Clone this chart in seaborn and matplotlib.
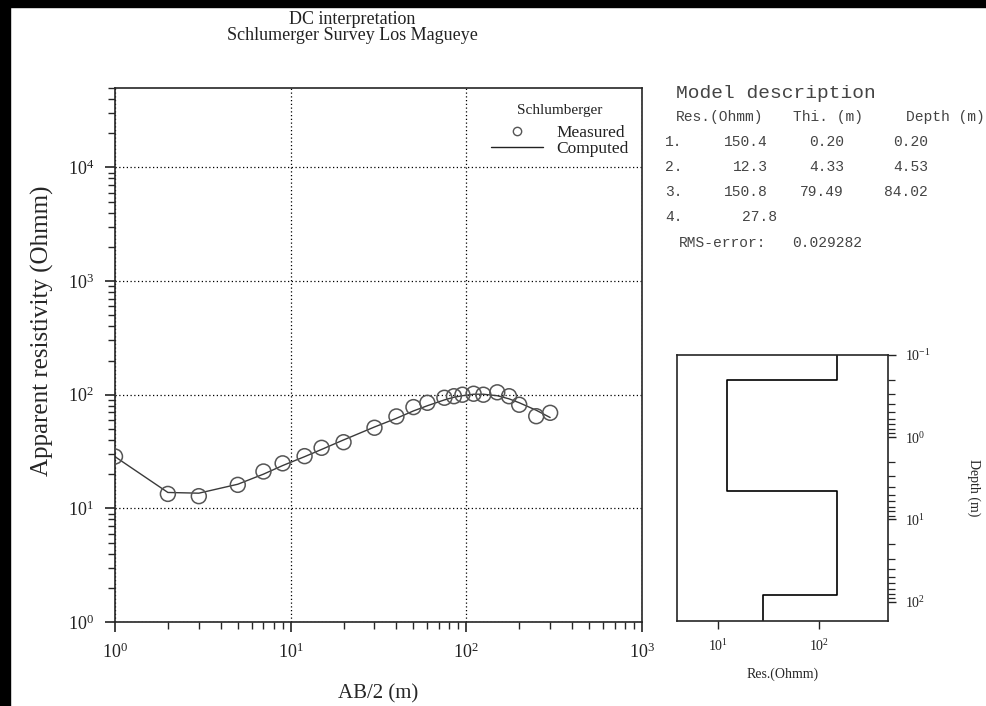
import numpy as np
import pandas as pd
import matplotlib
matplotlib.use("Agg")
import matplotlib.pyplot as plt
from matplotlib.lines import Line2D
from matplotlib.patches import Rectangle
from matplotlib.ticker import LogLocator, NullFormatter
import seaborn as sns

# Sounding data (AB/2 in m, apparent resistivity in Ohmm)
ab2 = [1, 2, 3, 5, 7, 9, 12, 15, 20, 30, 40, 50, 60, 75, 85, 95, 110, 125, 150, 175, 200, 250, 300]
rho_measured = [28.6, 13.4, 12.8, 16.1, 21.1, 24.9, 28.8, 34.1, 38.2, 51.2, 64.4, 77.8, 84.9,
                94.0, 97.0, 100.0, 102.0, 100.0, 105.0, 97.0, 81.6, 64.7, 69.3]
rho_computed = [28.5, 13.8, 13.6, 16.3, 20.0, 23.8, 28.5, 33.0, 40.0, 52.0, 62.0, 72.0, 80.0,
                90.0, 95.0, 98.0, 101.0, 101.0, 98.0, 92.0, 85.0, 73.0, 63.0]

# Layered model
layer_res = [150.4, 12.3, 150.8, 27.8]
layer_thick = [0.20, 4.33, 79.49]
layer_depth = [0.20, 4.53, 84.02]
rms_error = 0.029282

# Style
sns.set_style("ticks")
plt.rcParams["font.family"] = ["Liberation Serif", "DejaVu Serif"]
plt.rcParams["mathtext.fontset"] = "custom"
plt.rcParams["mathtext.rm"] = "Liberation Serif"
plt.rcParams["mathtext.it"] = "Liberation Serif:italic"
plt.rcParams["axes.linewidth"] = 1.2
plt.rcParams["text.color"] = "#222222"

fig = plt.figure(figsize=(9.87, 7.06), dpi=100)

# Black frame on left and top
fig.patches.append(Rectangle((0, 0), 10 / 987, 1, transform=fig.transFigure, color="black", zorder=10))
fig.patches.append(Rectangle((0, 1 - 7 / 706), 1, 7 / 706, transform=fig.transFigure, color="black", zorder=10))

########################
# Main sounding curve  #
########################
ax = fig.add_axes([115 / 987, 84 / 706, 527 / 987, 534 / 706])
sounding_df = pd.DataFrame({"AB2": ab2, "Measured": rho_measured, "Computed": rho_computed})

sns.lineplot(data=sounding_df, x="AB2", y="Computed", ax=ax, color="#3a3a3a", lw=1.0,
             sort=False, estimator=None)
sns.scatterplot(data=sounding_df, x="AB2", y="Measured", ax=ax, marker="o", s=115,
                facecolor="none", edgecolor="#555555", linewidth=1.1, zorder=3)

ax.set_xscale("log")
ax.set_yscale("log")
ax.set_xlim(1, 1000)
ax.set_ylim(1, 5e4)
ax.grid(True, which="major", color="black", linestyle=(0, (1, 2)), linewidth=0.9)
ax.xaxis.set_minor_locator(LogLocator(base=10, subs=np.arange(2, 10)))
ax.yaxis.set_minor_locator(LogLocator(base=10, subs=np.arange(2, 10)))
ax.xaxis.set_minor_formatter(NullFormatter())
ax.yaxis.set_minor_formatter(NullFormatter())
ax.tick_params(which="major", length=7, width=1.2, labelsize=13, pad=8, colors="#222222")
ax.tick_params(which="minor", length=5, width=1.0)
ax.set_xlabel("AB/2 (m)", fontsize=15, labelpad=16)
ax.set_ylabel("Apparent resistivity (Ohmm)", fontsize=18, labelpad=12)
ax.yaxis.set_label_coords(-0.115, 0.545)
for side in ["top", "right"]:
    ax.spines[side].set_visible(True)

handles = [
    Line2D([], [], marker="o", ls="none", markersize=6, markerfacecolor="none",
           markeredgecolor="#555555"),
    Line2D([], [], color="#222222", lw=1.0),
]
leg = ax.legend(handles, ["Measured", "Computed"], title="Schlumberger", loc="upper right",
                frameon=False, fontsize=12.5, title_fontsize=11, handlelength=3,
                labelspacing=0.0, borderaxespad=0.5, bbox_to_anchor=(1.005, 1.0))
leg._legend_box.sep = 6

fig.text(352 / 987, 1 - 19 / 706, "DC interpretation", ha="center", va="center", fontsize=13)
fig.text(352 / 987, 1 - 36 / 706, "Schlumerger Survey Los Magueye", ha="center", va="center",
         fontsize=13)

#####################
# Model description #
#####################
mono = "Liberation Mono"
txt_col = "#444444"
fig.text(676 / 987, 1 - 94 / 706, "Model description", family=mono, fontsize=14,
         ha="left", va="center", color=txt_col)
fig.text(676 / 987, 1 - 117 / 706, "Res.(Ohmm)", family=mono, fontsize=10.5, ha="left",
         va="center", color=txt_col)
fig.text(863 / 987, 1 - 117 / 706, "Thi. (m)", family=mono, fontsize=10.5, ha="right",
         va="center", color=txt_col)
fig.text(985 / 987, 1 - 117 / 706, "Depth (m)", family=mono, fontsize=10.5, ha="right",
         va="center", color=txt_col)
row_y = [142, 167, 192, 217]
for i, res in enumerate(layer_res):
    yy = 1 - row_y[i] / 706
    fig.text(665 / 987, yy, f"{i + 1}.", family=mono, fontsize=10.5, ha="left", va="center",
             color=txt_col)
    res_right = 768 if i < len(layer_thick) else 777
    fig.text(res_right / 987, yy, f"{res:.1f}", family=mono, fontsize=10.5, ha="right",
             va="center", color=txt_col)
    if i < len(layer_thick):
        fig.text(844 / 987, yy, f"{layer_thick[i]:.2f}", family=mono, fontsize=10.5,
                 ha="right", va="center", color=txt_col)
        fig.text(928 / 987, yy, f"{layer_depth[i]:.2f}", family=mono, fontsize=10.5,
                 ha="right", va="center", color=txt_col)
fig.text(679 / 987, 1 - 243 / 706, "RMS-error:", family=mono, fontsize=10.5, ha="left",
         va="center", color=txt_col)
fig.text(792 / 987, 1 - 243 / 706, f"{rms_error:.6f}", family=mono, fontsize=10.5, ha="left",
         va="center", color=txt_col)

#################
# Model profile #
#################
axm = fig.add_axes([677 / 987, 85 / 706, 211 / 987, 266 / 706])
depth_top, depth_bottom = 0.1, 172
edges = [depth_top] + layer_depth + [depth_bottom]
prof_x, prof_y = [], []
for i, res in enumerate(layer_res):
    prof_x += [res, res]
    prof_y += [edges[i], edges[i + 1]]
profile_df = pd.DataFrame({"Res": prof_x, "Depth": prof_y})
sns.lineplot(data=profile_df, x="Res", y="Depth", ax=axm, color="black", lw=1.2,
             sort=False, estimator=None)
axm.set_xscale("log")
axm.set_yscale("log")
axm.set_xlim(10 ** 0.594, 10 ** 2.683)
axm.set_ylim(depth_bottom, depth_top)
axm.yaxis.tick_right()
axm.yaxis.set_label_position("right")
axm.yaxis.set_minor_locator(LogLocator(base=10, subs=np.arange(2, 10)))
axm.yaxis.set_minor_formatter(NullFormatter())
axm.xaxis.set_minor_locator(LogLocator(base=10, subs=[]))
axm.tick_params(which="major", length=6, width=1.0, labelsize=10, pad=6, colors="#222222")
axm.tick_params(which="minor", length=5, width=0.9)
axm.set_xlabel("Res.(Ohmm)", fontsize=10, labelpad=10)
axm.set_ylabel("Depth (m)", fontsize=10, rotation=270, labelpad=36)
for side in ["top", "right", "left", "bottom"]:
    axm.spines[side].set_visible(True)
    axm.spines[side].set_linewidth(1.2)

fig.savefig("out.png", dpi=100)
